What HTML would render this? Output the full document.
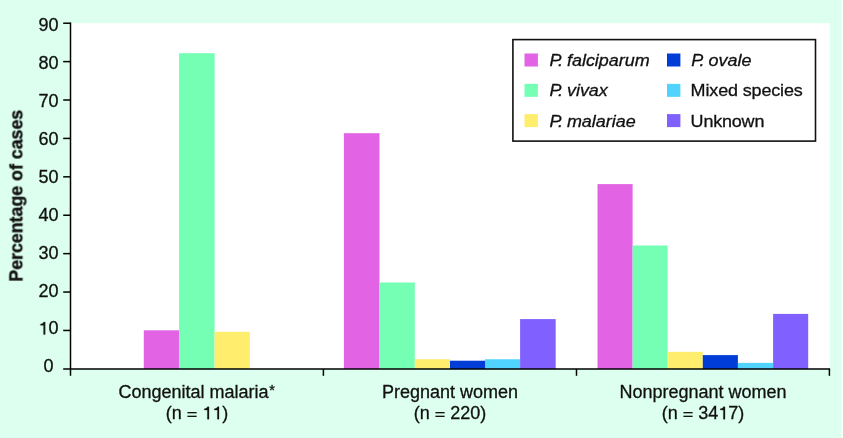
<!DOCTYPE html>
<html><head><meta charset="utf-8">
<style>
html,body{margin:0;padding:0;width:843px;height:438px;overflow:hidden;background:#DCFFF0;}
svg{display:block;position:absolute;left:0;top:0;}
text{font-family:"Liberation Sans",sans-serif;font-kerning:none;fill:#111;stroke:#111;stroke-width:0.3px;}
.t{opacity:0.999;will-change:transform;}
.h{fill:transparent;stroke:none;}
</style></head><body>
<svg width="843" height="438" viewBox="0 0 843 438">
  <rect x="0" y="0" width="843" height="438" fill="#DCFFF0"/>
  <rect x="841" y="0" width="1" height="438" fill="#EAFFF5"/>
  <rect x="842" y="0" width="1" height="438" fill="#FBFFFD"/>
  <!-- plot area -->
    <rect x="70.5" y="23.2" width="759.3" height="345.6" fill="#FFFFFF"/>

    <!-- group 1 -->
  <rect x="143.8" y="330.3" width="35.25" height="38.70" fill="#E264E4"/>
  <rect x="179.05" y="53.2" width="35.55" height="315.80" fill="#74FFB5"/>
  <rect x="214.6" y="331.8" width="35.20" height="37.20" fill="#FFEE6E"/>
  <!-- group 2 -->
  <rect x="343.9" y="133.2" width="35.60" height="235.80" fill="#E264E4"/>
  <rect x="379.5" y="282.5" width="35.30" height="86.50" fill="#74FFB5"/>
  <rect x="414.8" y="359.2" width="35.20" height="9.80" fill="#FFEE6E"/>
  <rect x="450.0" y="360.7" width="35.00" height="8.30" fill="#003CD6"/>
  <rect x="485.0" y="359.25" width="35.10" height="9.75" fill="#50D4FF"/>
  <rect x="520.1" y="319.1" width="35.60" height="49.90" fill="#8060FF"/>
  <!-- group 3 -->
  <rect x="597.5" y="184.1" width="35.10" height="184.90" fill="#E264E4"/>
  <rect x="632.6" y="245.5" width="35.00" height="123.50" fill="#74FFB5"/>
  <rect x="667.6" y="351.85" width="35.20" height="17.15" fill="#FFEE6E"/>
  <rect x="702.8" y="355.1" width="35.10" height="13.90" fill="#003CD6"/>
  <rect x="737.9" y="362.9" width="35.20" height="6.10" fill="#50D4FF"/>
  <rect x="773.1" y="313.9" width="35.10" height="55.10" fill="#8060FF"/>

  <!-- axes -->
  <g stroke="#000" stroke-width="1.5" fill="none">
    <line x1="70.5" y1="22.5" x2="70.5" y2="375.8"/>
    <line x1="63.2" y1="369" x2="830.1" y2="369"/>
    <line x1="63.2" y1="330.45" x2="70.5" y2="330.45"/>
    <line x1="63.2" y1="292.04" x2="70.5" y2="292.04"/>
    <line x1="63.2" y1="253.64" x2="70.5" y2="253.64"/>
    <line x1="63.2" y1="215.23" x2="70.5" y2="215.23"/>
    <line x1="63.2" y1="176.83" x2="70.5" y2="176.83"/>
    <line x1="63.2" y1="138.42" x2="70.5" y2="138.42"/>
    <line x1="63.2" y1="100.01" x2="70.5" y2="100.01"/>
    <line x1="63.2" y1="61.61" x2="70.5" y2="61.61"/>
    <line x1="63.2" y1="23.21" x2="70.5" y2="23.21"/>
    <line x1="323.4" y1="369" x2="323.4" y2="375.8"/>
    <line x1="576.5" y1="369" x2="576.5" y2="375.8"/>
    <line x1="829.4" y1="369" x2="829.4" y2="375.8"/>
  </g>

  <!-- y tick labels -->
  <g class="t" font-size="18" text-anchor="middle">
    <text x="48.6" y="30.95">90</text>
    <text x="48.6" y="68.89">80</text>
    <text x="48.6" y="106.83">70</text>
    <text x="48.6" y="144.77">60</text>
    <text x="48.6" y="182.71">50</text>
    <text x="48.6" y="220.65">40</text>
    <text x="48.6" y="258.59">30</text>
    <text x="48.6" y="296.53">20</text>
    <text x="48.6" y="334.47"><tspan class="h">1</tspan>0</text>
    <text x="48.6" y="372.41">0</text>
  </g>

  <!-- y axis title -->
  <g class="t"><text transform="translate(22.4,195.7) rotate(-90)" text-anchor="middle" font-size="17.8" font-weight="bold" style="stroke-width:0.4px">Percentage of cases</text></g>

  <!-- x labels -->
  <g class="t" font-size="18" text-anchor="middle">
    <text x="196.7" y="398">Congenital malaria<tspan font-size="14.5" dx="0.8" dy="-3">*</tspan></text>
    <text x="197" y="419.4">(n <tspan class="h">=</tspan> <tspan class="h">1</tspan><tspan class="h">1</tspan>)</text>
    <text x="450" y="398">Pregnant women</text>
    <text x="450" y="419.4">(n <tspan class="h">=</tspan> 220)</text>
    <text x="703" y="398">Nonpregnant women</text>
    <text x="703" y="419.4">(n <tspan class="h">=</tspan> 34<tspan class="h">1</tspan>7)</text>
  </g>

  <g class="t" fill="#111" stroke="#111" stroke-width="34">
    <path transform="translate(38.984,334.47) scale(0.008789,-0.008789)" d="M696,0 L515,0 L515,1040 L170,1040 L170,1180 C350,1190 480,1260 530,1409 L696,1409 Z"/>
    <path transform="translate(202.85,419.2) scale(0.008789,-0.008789)" d="M696,0 L515,0 L515,1040 L170,1040 L170,1180 C350,1190 480,1260 530,1409 L696,1409 Z"/>
    <path transform="translate(212.866,419.2) scale(0.008789,-0.008789)" d="M696,0 L515,0 L515,1040 L170,1040 L170,1180 C350,1190 480,1260 530,1409 L696,1409 Z"/>
    <path transform="translate(718.858,419.2) scale(0.008789,-0.008789)" d="M696,0 L515,0 L515,1040 L170,1040 L170,1180 C350,1190 480,1260 530,1409 L696,1409 Z"/>
  </g>
  <g fill="#111">
    <rect x="187.43" y="412.0" width="9.2" height="1.35"/>
    <rect x="187.43" y="415.65" width="9.2" height="1.35"/>
    <rect x="435.43" y="412.0" width="9.2" height="1.35"/>
    <rect x="435.43" y="415.65" width="9.2" height="1.35"/>
    <rect x="683.42" y="412.0" width="9.2" height="1.35"/>
    <rect x="683.42" y="415.65" width="9.2" height="1.35"/>
  </g>

  <!-- legend -->
  <rect x="512.9" y="39.6" width="302.6" height="101.5" fill="#FFFFFF" stroke="#111" stroke-width="1.6"/>
  <rect x="524.5" y="53.5" width="13.4" height="13.0" fill="#E264E4"/>
  <rect x="524.5" y="83.85" width="13.4" height="13.0" fill="#74FFB5"/>
  <rect x="524.5" y="114.1" width="13.4" height="13.0" fill="#FFEE6E"/>
  <rect x="667" y="53.5" width="13.4" height="13.0" fill="#003CD6"/>
  <rect x="667" y="83.85" width="13.4" height="13.0" fill="#50D4FF"/>
  <rect x="667" y="114.1" width="13.4" height="13.0" fill="#8060FF"/>
  <g class="t" font-size="17.3">
    <text transform="translate(549.6,66.0) scale(1.04,1)" font-style="italic">P</text><text transform="translate(557.9,66.0) scale(1.04,1)" font-style="italic">.</text><text transform="translate(566.9,66.0) scale(1.04,1)" font-style="italic">falciparum</text>
    <text transform="translate(549.6,96.3) scale(1.04,1)" font-style="italic">P</text><text transform="translate(557.9,96.3) scale(1.04,1)" font-style="italic">.</text><text transform="translate(566.9,96.3) scale(1.04,1)" font-style="italic">vivax</text>
    <text transform="translate(549.6,126.5) scale(1.04,1)" font-style="italic">P</text><text transform="translate(557.9,126.5) scale(1.04,1)" font-style="italic">.</text><text transform="translate(566.9,126.5) scale(1.04,1)" font-style="italic">malariae</text>
    <text transform="translate(691.2,66.0) scale(1.04,1)" font-style="italic">P</text><text transform="translate(699.5,66.0) scale(1.04,1)" font-style="italic">.</text><text transform="translate(708.5,66.0) scale(1.04,1)" font-style="italic">ovale</text>
    <text transform="translate(690.6,96.3) scale(1.04,1)" letter-spacing="-0.13">Mixed species</text>
    <text transform="translate(690.6,126.5) scale(1.04,1)" letter-spacing="-0.18">Unknown</text>
  </g>
</svg>
</body></html>
